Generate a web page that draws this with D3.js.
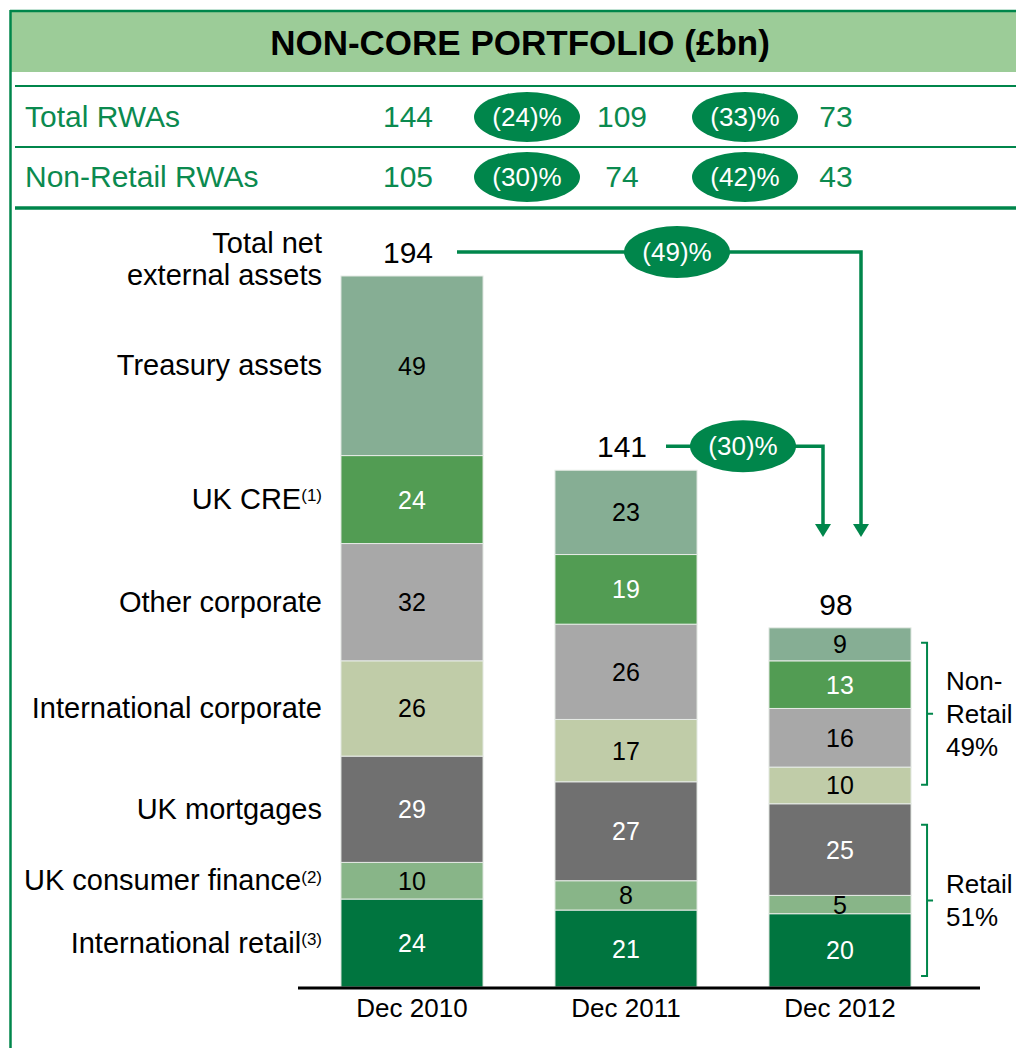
<!DOCTYPE html>
<head>
<meta charset="utf-8">
<style>
body { margin: 0; background: #fff; }
svg { display: block; font-family: "Liberation Sans", Arial, sans-serif; }
.green { fill: #0b8a4f; }
.seg-label { font-size: 25px; text-anchor: middle; }
.cat-label { font-size: 29px; text-anchor: end; fill: #000; }
</style>
</head>
<body>
<svg width="1016" height="1048"></svg>
<script src="https://d3js.org/d3.v7.min.js"></script>
<script>
// data
var years = ["Dec 2010", "Dec 2011", "Dec 2012"];
var categories = ["International retail", "UK consumer finance", "UK mortgages",
  "International corporate", "Other corporate", "UK CRE", "Treasury assets"];
var footnotes = ["(3)", "(2)", "", "", "", "(1)", ""];
var intlRetail = [24, 21, 20];
var ukConsumer = [10, 8, 5];
var ukMortgages = [29, 27, 25];
var intlCorporate = [26, 17, 10];
var otherCorporate = [32, 26, 16];
var ukCre = [24, 19, 13];
var treasury = [49, 23, 9];
var totals = [194, 141, 98];
var rowLabels = ["Total RWAs", "Non-Retail RWAs"];
var rwaValues = [[144, 109, 73], [105, 74, 43]];
var rwaChange = [["(24)%", "(33)%"], ["(30)%", "(42)%"]];
var assetChange = ["(49)%", "(30)%"];
var splitLabels = [["Non-", "Retail", "49%"], ["Retail", "51%"]];

var colours = ["#00753f", "#88b588", "#707070", "#c0cca8", "#a8a8a8", "#529c53", "#86ae94"];
var darkText = [false, true, false, true, true, false, true];
var green = "#00864b";

var series = [intlRetail, ukConsumer, ukMortgages, intlCorporate, otherCorporate, ukCre, treasury];
var table = years.map(function(y, i){
  var row = {year: y};
  categories.forEach(function(c, j){ row[c] = series[j][i]; });
  return row;
});

var svg = d3.select("svg");

// frame and header
svg.append("rect").attr("x", 10).attr("y", 11).attr("width", 1010).attr("height", 61)
  .attr("fill", "#9ccc98");
svg.append("line").attr("x1", 10).attr("x2", 1016).attr("y1", 11).attr("y2", 11)
  .attr("stroke", green).attr("stroke-width", 2.5);
svg.append("line").attr("x1", 10.5).attr("x2", 10.5).attr("y1", 10).attr("y2", 1048)
  .attr("stroke", green).attr("stroke-width", 2.5);
svg.append("text").attr("x", 520).attr("y", 55).attr("text-anchor", "middle")
  .style("font-size", "35px").style("font-weight", "bold").text("NON-CORE PORTFOLIO (£bn)");

var x = d3.scaleBand().domain(years).range([305, 947]).paddingInner(0.336).paddingOuter(0.168);
var y = d3.scaleLinear().domain([0, 200]).range([987, 254]);
var cx = function(i){ return x(years[i]) + x.bandwidth() / 2; };

// RWA table
[86, 147].forEach(function(ly){
  svg.append("line").attr("x1", 15).attr("x2", 1016).attr("y1", ly).attr("y2", ly)
    .attr("stroke", green).attr("stroke-width", 2);
});
svg.append("line").attr("x1", 15).attr("x2", 1016).attr("y1", 208).attr("y2", 208)
  .attr("stroke", green).attr("stroke-width", 3.5);

var ovalX = [cx(0) + 115, cx(1) + 119];
rowLabels.forEach(function(lbl, r){
  var ry = 117 + r * 60;
  svg.append("text").attr("class", "green").attr("x", 25).attr("y", ry + 10)
    .style("font-size", "30px").text(lbl);
  rwaValues[r].forEach(function(v, i){
    svg.append("text").attr("class", "green").attr("x", cx(i) - 4).attr("y", ry + 10)
      .attr("text-anchor", "middle").style("font-size", "30px").text(v);
  });
  rwaChange[r].forEach(function(t, i){
    svg.append("ellipse").attr("cx", ovalX[i]).attr("cy", ry).attr("rx", 53).attr("ry", 25)
      .attr("fill", green);
    svg.append("text").attr("x", ovalX[i]).attr("y", ry + 9).attr("text-anchor", "middle")
      .attr("fill", "#fff").style("font-size", "26px").text(t);
  });
});

// stacked bars
var stack = d3.stack().keys(categories)(table);
var layers = svg.append("g").selectAll("g").data(stack).enter().append("g")
  .attr("fill", function(d, i){ return colours[i]; });
layers.selectAll("rect").data(function(d){ return d; }).enter().append("rect")
  .attr("x", function(d){ return x(d.data.year); })
  .attr("y", function(d){ return y(d[1]); })
  .attr("width", x.bandwidth())
  .attr("height", function(d){ return y(d[0]) - y(d[1]); })
  .attr("stroke", "#e6ebe6").attr("stroke-width", 1);
layers.selectAll("text").data(function(d, i){ return d.map(function(p){ p.k = i; return p; }); })
  .enter().append("text").attr("class", "seg-label")
  .attr("x", function(d){ return x(d.data.year) + x.bandwidth() / 2; })
  .attr("y", function(d){ return (y(d[0]) + y(d[1])) / 2; })
  .attr("dy", "0.36em")
  .attr("fill", function(d){ return darkText[d.k] ? "#000" : "#fff"; })
  .text(function(d){ return d[1] - d[0]; });

// axis
var axis = svg.append("g").attr("transform", "translate(0,987)")
  .call(d3.axisBottom(x).tickSize(0).tickPadding(12));
axis.select(".domain").remove();
axis.selectAll("text").style("font-size", "26px").attr("fill", "#000")
  .style("font-family", "'Liberation Sans', Arial, sans-serif");
svg.append("line").attr("x1", 298).attr("x2", 980).attr("y1", 988).attr("y2", 988)
  .attr("stroke", "#000").attr("stroke-width", 3);

// category labels on the left
stack.forEach(function(layer, i){
  var p = layer[0];
  var t = svg.append("text").attr("class", "cat-label").attr("x", 322)
    .attr("y", (y(p[0]) + y(p[1])) / 2).attr("dy", "0.33em").text(categories[i]);
  if (footnotes[i]) {
    t.append("tspan").attr("dy", "-0.45em").style("font-size", "17px").text(footnotes[i]);
  }
});
svg.append("text").attr("class", "cat-label").attr("x", 322).attr("y", 253).text("Total net");
svg.append("text").attr("class", "cat-label").attr("x", 322).attr("y", 285).text("external assets");

// totals
totals.forEach(function(t, i){
  svg.append("text").attr("x", cx(i) - 4).attr("y", y(t) - 13).attr("text-anchor", "middle")
    .style("font-size", "30px").text(t);
});

// change arrows
var tipY = 537;
var arrows = [
  {from: 0, x0: cx(0) + 45, xr: cx(2) + 21, oval: cx(1) + 51},
  {from: 1, x0: cx(1) + 40, xr: cx(2) - 17, oval: cx(1) + 117}
];
arrows.forEach(function(a, i){
  var ly = y(totals[a.from]) - 24;
  svg.append("path")
    .attr("d", "M" + a.x0 + "," + ly + "H" + a.xr + "V" + (tipY - 12))
    .attr("fill", "none").attr("stroke", green).attr("stroke-width", 3.5);
  svg.append("path")
    .attr("d", "M" + (a.xr - 8) + "," + (tipY - 13) + "H" + (a.xr + 8) + "L" + a.xr + "," + tipY + "Z")
    .attr("fill", green);
  svg.append("ellipse").attr("cx", a.oval).attr("cy", ly).attr("rx", 53).attr("ry", 26)
    .attr("fill", green);
  svg.append("text").attr("x", a.oval).attr("y", ly + 9).attr("text-anchor", "middle")
    .attr("fill", "#fff").style("font-size", "26px").text(assetChange[i]);
});

// retail / non-retail braces
var bx = x(years[2]) + x.bandwidth() + 16;
var braces = [[y(totals[2]) + 15, y(50) - 19], [y(50) + 21, y(0) - 11]];
braces.forEach(function(b, i){
  var mid = (b[0] + b[1]) / 2;
  svg.append("path")
    .attr("d", "M" + (bx - 6) + "," + b[0] + "H" + bx + "V" + b[1] + "H" + (bx - 6) +
      "M" + bx + "," + mid + "H" + (bx + 6))
    .attr("fill", "none").attr("stroke", green).attr("stroke-width", 2);
  var lines = splitLabels[i];
  var top = mid - (lines.length - 1) * 33 / 2;
  lines.forEach(function(l, j){
    svg.append("text").attr("x", bx + 19).attr("y", top + j * 33).attr("dy", "0.36em")
      .style("font-size", "26px").text(l);
  });
});
</script>
</body>
</html>
